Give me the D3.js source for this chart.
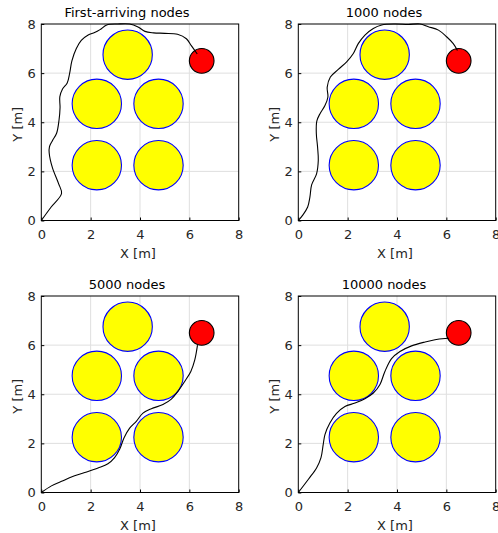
<!DOCTYPE html>
<meta charset="utf-8">
<script src="https://d3js.org/d3.v7.min.js"></script>
<style>
  body { margin: 0; background: #fff; }
  text { font-family: "DejaVu Sans", sans-serif; }
</style>
<div id="chart"></div>
<script>
// obstacles (yellow) and goal (red)
var obsX = [2.25, 4.75, 2.25, 4.75, 3.5];
var obsY = [2.25, 2.25, 4.75, 4.75, 6.75];
var obsR = 1;
var goal = [6.5, 6.5];
var goalR = 0.5;

var titles = ["First-arriving nodes", "1000 nodes", "5000 nodes", "10000 nodes"];
var ticks = [0, 2, 4, 6, 8];

// paths, [x, y]
var pathFirst = [[0,0],[0.4,0.55],[0.82,1.1],[0.7,1.5],[0.45,2.15],[0.32,2.75],[0.33,3.0],[0.45,3.25],
  [0.62,3.55],[0.72,4.1],[0.76,4.6],[0.75,5.03],[0.86,5.35],[1.05,5.6],[1.15,6.0],[1.24,6.5],
  [1.42,7.0],[1.62,7.33],[1.9,7.55],[2.16,7.65],[2.38,7.77],[2.65,7.96],[3.1,8.0],[3.58,8.0],
  [3.92,7.88],[4.2,7.7],[4.55,7.64],[5.0,7.62],[5.52,7.58],[5.88,7.4],[6.08,7.12],[6.32,6.78]];
var path1000 = [[0,0],[0.18,0.22],[0.38,0.55],[0.47,0.95],[0.54,1.45],[0.74,1.9],[0.81,2.45],
  [0.78,3.0],[0.73,3.55],[0.75,4.05],[0.88,4.35],[1.08,4.68],[1.2,5.03],[1.17,5.42],[1.3,5.84],
  [1.62,6.15],[1.96,6.46],[2.23,6.8],[2.43,7.2],[2.7,7.55],[3.04,7.82],[3.38,7.96],[3.92,8.0],
  [4.46,7.98],[4.93,8.0],[5.27,7.89],[5.68,7.75],[6.01,7.48],[6.28,7.2],[6.45,6.92]];
var path5000 = [[0,0],[0.41,0.27],[0.88,0.48],[1.22,0.63],[1.76,0.81],[2.3,1.0],[2.7,1.17],
  [2.97,1.42],[3.18,1.77],[3.35,2.22],[3.58,2.62],[3.85,2.9],[4.12,3.23],[4.46,3.41],[4.93,3.58],
  [5.27,3.8],[5.54,4.12],[5.81,4.52],[6.06,4.93],[6.22,5.4],[6.33,6.0]];
var path10000 = [[0,0],[0.41,0.54],[0.74,1.0],[0.92,1.42],[1.01,1.96],[1.08,2.36],[1.28,2.83],
  [1.55,3.22],[1.89,3.5],[2.3,3.64],[2.7,3.82],[3.04,4.05],[3.31,4.4],[3.51,4.93],[3.78,5.45],
  [4.12,5.74],[4.59,5.97],[5.14,6.13],[5.54,6.22],[5.95,6.27],[6.1,6.28]];

var paths = [pathFirst, path1000, path5000, path10000];

// panel placement (left, top) of each plot box
var panels = [[41.3, 24], [298.3, 24], [41.3, 296], [298.3, 296]];
var w = 197.4, h = 196.5;

var svg = d3.select("#chart")
  .append("svg")
    .attr("width", 498)
    .attr("height", 533);

panels.forEach(function(p, i) {
  var g = svg.append("g")
    .attr("transform", "translate(" + p[0] + "," + p[1] + ")");

  var x = d3.scaleLinear().domain([0, 8]).range([0, w]);
  var y = d3.scaleLinear().domain([0, 8]).range([h, 0]);

  // white background
  g.append("rect").attr("width", w).attr("height", h).attr("fill", "#fff");

  // grid
  g.selectAll(".gx").data(ticks.slice(1, 4)).enter().append("line")
    .attr("x1", d => x(d)).attr("x2", d => x(d))
    .attr("y1", 0).attr("y2", h)
    .attr("stroke", "#dfdfdf").attr("stroke-width", 1);
  g.selectAll(".gy").data(ticks.slice(1, 4)).enter().append("line")
    .attr("y1", d => y(d)).attr("y2", d => y(d))
    .attr("x1", 0).attr("x2", w)
    .attr("stroke", "#dfdfdf").attr("stroke-width", 1);

  // obstacles
  g.selectAll(".obs").data(obsX).enter().append("circle")
    .attr("cx", d => x(d))
    .attr("cy", (d, j) => y(obsY[j]))
    .attr("r", x(obsR) - x(0))
    .attr("fill", "#ffff00")
    .attr("stroke", "#0000ff")
    .attr("stroke-width", 1.1);

  // goal
  g.append("circle")
    .attr("cx", x(goal[0])).attr("cy", y(goal[1]))
    .attr("r", x(goalR) - x(0))
    .attr("fill", "#ff0000")
    .attr("stroke", "#000")
    .attr("stroke-width", 1.1);

  // path
  var line = d3.line()
    .x(d => x(d[0])).y(d => y(d[1]))
    .curve(d3.curveCatmullRom.alpha(0.5));
  g.append("path")
    .attr("d", line(paths[i]))
    .attr("fill", "none")
    .attr("stroke", "#000")
    .attr("stroke-width", 1.1);

  // axes, ticks inside
  g.append("g")
    .attr("transform", "translate(0," + h + ")")
    .call(d3.axisBottom(x).tickValues(ticks).tickSize(-3).tickPadding(9))
    .call(a => a.select(".domain").remove())
    .call(a => a.selectAll("text").attr("font-size", 13).attr("fill", "#262626")
      .style("font-family", "DejaVu Sans"));
  g.append("g")
    .call(d3.axisLeft(y).tickValues(ticks).tickSize(-3).tickPadding(5.5))
    .call(a => a.select(".domain").remove())
    .call(a => a.selectAll("text").attr("font-size", 13).attr("fill", "#262626")
      .style("font-family", "DejaVu Sans"));

  // box
  g.append("rect").attr("width", w).attr("height", h)
    .attr("fill", "none").attr("stroke", "#000").attr("stroke-width", 1);

  // labels
  g.append("text")
    .attr("x", w / 2 - 2).attr("y", h + 37)
    .attr("text-anchor", "middle")
    .attr("font-size", 13).attr("fill", "#262626")
    .text("X [m]");
  g.append("text")
    .attr("transform", "translate(-19," + (h / 2 + 2) + ")rotate(-90)")
    .attr("text-anchor", "middle")
    .attr("font-size", 13).attr("fill", "#262626")
    .text("Y [m]");
  g.append("text")
    .attr("x", w / 2 - 13).attr("y", -7)
    .attr("text-anchor", "middle")
    .attr("font-size", 13).attr("fill", "#000")
    .text(titles[i]);
});
</script>
